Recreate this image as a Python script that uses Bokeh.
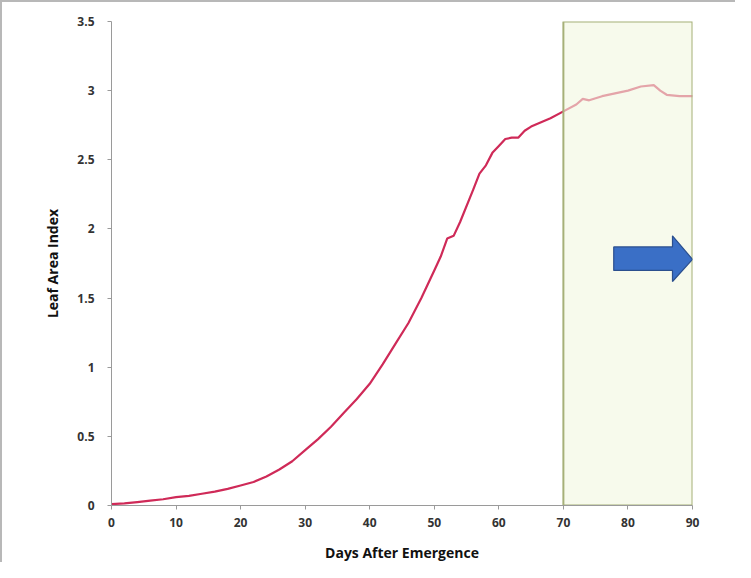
from bokeh.plotting import figure
from bokeh.models import FixedTicker, Range1d
from bokeh.embed import file_html
from bokeh.resources import INLINE

days = [0, 2, 4, 6, 8, 10, 12, 14, 16, 18, 20, 22, 24, 26, 28, 30, 32, 34, 36, 38, 40,
        42, 44, 46, 48, 50, 51, 52, 53, 54, 56, 57, 58, 59, 60, 61, 62, 63, 64, 65, 66,
        68, 70, 72, 73, 74, 76, 78, 80, 82, 84, 85, 86, 88, 90]
lai = [0.01, 0.015, 0.025, 0.035, 0.045, 0.06, 0.07, 0.085, 0.10, 0.12, 0.145,
       0.17, 0.21, 0.26, 0.32, 0.40, 0.48, 0.57, 0.67, 0.77, 0.88,
       1.02, 1.17, 1.32, 1.50, 1.70, 1.80, 1.93, 1.95, 2.05, 2.28, 2.40, 2.46, 2.55, 2.60,
       2.65, 2.66, 2.66, 2.71, 2.74, 2.76, 2.80, 2.85, 2.90, 2.94, 2.93, 2.96, 2.98, 3.00,
       3.03, 3.04, 3.00, 2.97, 2.96, 2.96]

x_ticks = [0, 10, 20, 30, 40, 50, 60, 70, 80, 90]
x_tick_labels = ["0", "10", "20", "30", "40", "50", "60", "70", "80", "90"]
y_ticks = [0, 0.5, 1, 1.5, 2, 2.5, 3, 3.5]
y_tick_labels = ["0", "0.5", "1", "1.5", "2", "2.5", "3", "3.5"]

# highlighted period (days) and arrow (data coords)
window_start, window_end = 70, 90
arrow_x = [77.8, 86.9, 86.9, 90.0, 86.9, 86.9, 77.8]
arrow_y = [1.70, 1.70, 1.62, 1.78, 1.95, 1.87, 1.87]

p = figure(width=735, height=562, output_backend="svg", toolbar_location=None,
           x_range=Range1d(0, 90), y_range=Range1d(0, 3.5),
           min_border_left=109, min_border_right=45, min_border_top=19,
           min_border_bottom=58)
p.styles = {"border-top": "2px solid #b8b8b8", "border-left": "2px solid #b8b8b8"}
p.outline_line_color = None
p.xgrid.visible = False
p.ygrid.visible = False
p.background_fill_color = "white"
p.border_fill_color = "white"

p.line(days, lai, line_color="#cf2a58", line_width=2.2)

p.quad(left=[window_start], right=[window_end], bottom=[0], top=[3.5],
       fill_color="#f1f6e0", fill_alpha=0.6, line_color="#a6b078", line_width=2)

p.patch(arrow_x, arrow_y, fill_color="#3a6fc6", line_color="#2b4f8e", line_width=1.2)

for ax in (p.xaxis, p.yaxis):
    ax.axis_line_color = "#9a9a9a"
    ax.major_tick_line_color = "#9a9a9a"
    ax.major_tick_out = 4
    ax.major_tick_in = 0
    ax.minor_tick_line_color = None
    ax.major_label_text_font = "Open Sans"
    ax.major_label_text_font_style = "bold"
    ax.major_label_text_font_size = "12px"
    ax.major_label_text_color = "#333333"
    ax.axis_label_text_font = "Open Sans"
    ax.axis_label_text_font_style = "bold"
    ax.axis_label_text_font_size = "14px"
    ax.axis_label_text_color = "#111111"

p.xaxis.ticker = FixedTicker(ticks=x_ticks)
p.xaxis.major_label_overrides = dict(zip(x_ticks, x_tick_labels))
p.yaxis.ticker = FixedTicker(ticks=y_ticks)
p.yaxis.major_label_overrides = dict(zip(y_ticks, y_tick_labels))
p.xaxis.axis_label = "Days After Emergence"
p.yaxis.axis_label = "Leaf Area Index"
p.xaxis.major_label_standoff = 8
p.xaxis.axis_label_standoff = 13
p.yaxis.major_label_standoff = 13
p.yaxis.axis_label_standoff = 12

open("out.html", "w").write(file_html(p, INLINE))
